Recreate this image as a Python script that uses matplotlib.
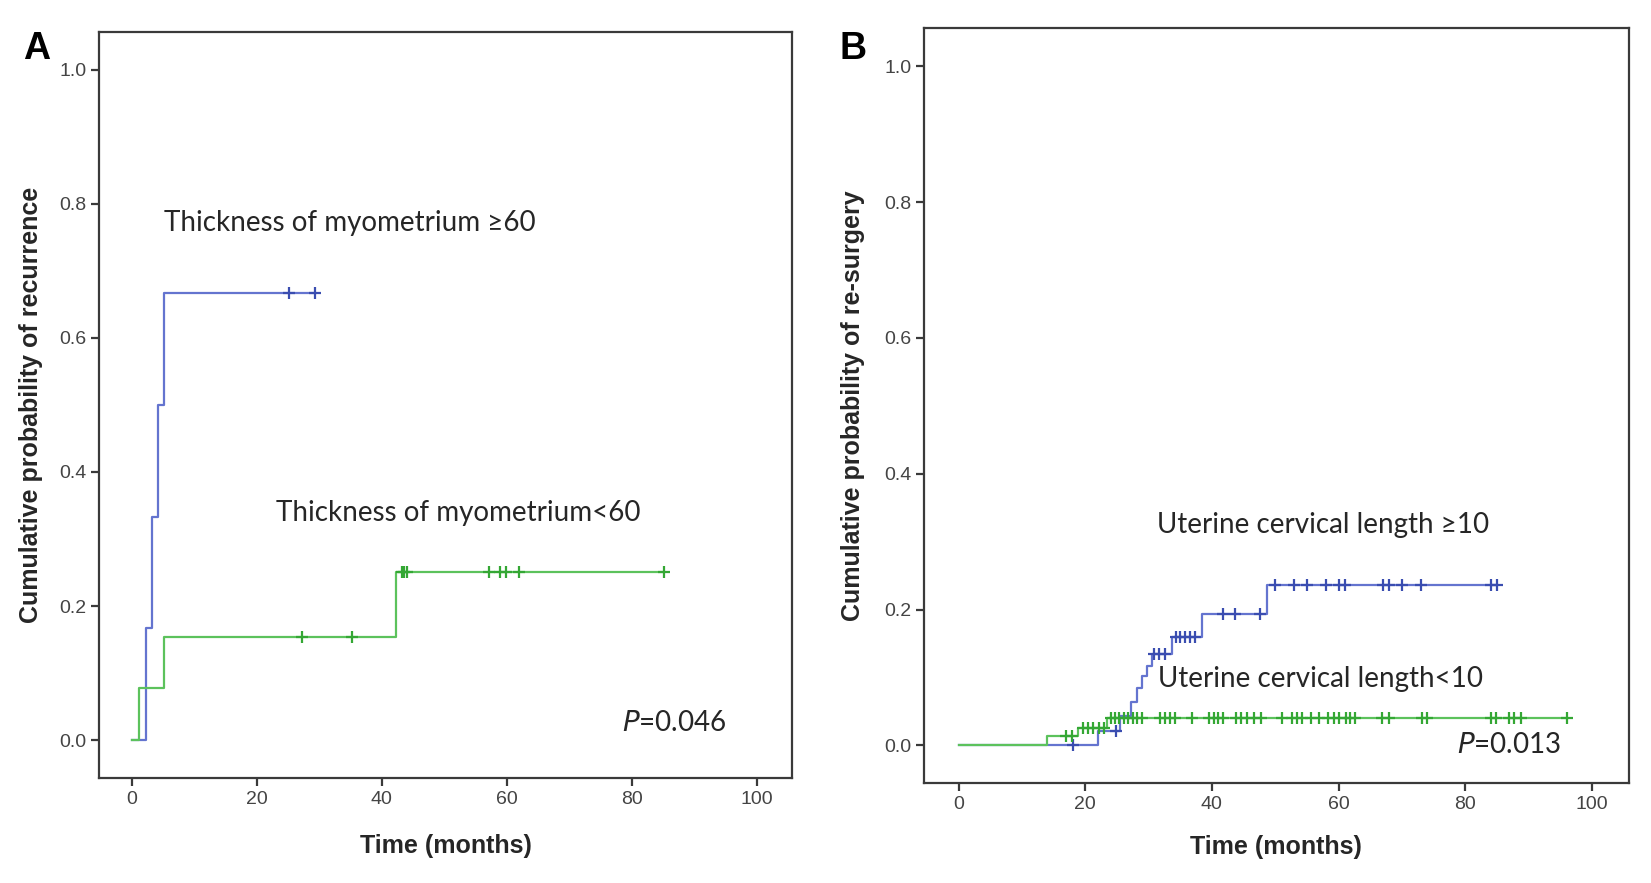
import matplotlib
matplotlib.use('Agg')
import matplotlib.pyplot as plt
import numpy as np

# ---- panel A: thickness of myometrium ----
a_hi_steps = [0, 2.3, 3.2, 4.2, 5.2]
a_hi_levels = [0, 0.167, 0.333, 0.5, 0.667]
a_hi_end = 29.3
a_hi_censor = [25.1, 29.3]

a_lo_steps = [0, 1.2, 5.2, 42.2]
a_lo_levels = [0, 0.077, 0.154, 0.25]
a_lo_end = 85.1
a_lo_censor = [27.2, 35.2, 43.2, 43.6, 44.1, 57.1, 58.9, 59.8, 62.0, 85.1]

# ---- panel B: uterine cervical length ----
b_hi_steps = [0, 22.0, 25.5, 27.3, 28.1, 28.9, 29.7, 30.5, 33.7, 38.5, 48.7]
b_hi_levels = [0, 0.021, 0.043, 0.064, 0.085, 0.102, 0.117, 0.135, 0.160, 0.194, 0.236]
b_hi_end = 85.0
b_hi_censor = [18.0, 24.8, 30.9, 31.7, 32.6, 34.3, 35.0, 35.8, 36.5, 37.3,
               41.7, 43.6, 47.6, 50.0, 53.0, 55.0, 58.0, 60.0, 61.0, 67.0,
               68.0, 70.0, 73.0, 84.0, 85.0]

b_lo_steps = [0, 14.0, 18.8, 23.4]
b_lo_levels = [0, 0.013, 0.026, 0.040]
b_lo_end = 96.0
b_lo_censor = [17.0, 17.9, 19.7, 20.5, 21.3, 22.1, 22.9,
               24.0, 24.7, 25.4, 26.1, 26.8, 27.5, 28.2, 29.0,
               31.8, 32.6, 33.4, 34.2, 36.9, 39.6, 40.3, 40.9, 41.7,
               43.8, 44.6, 45.6, 46.7, 47.7, 51.0, 52.6, 53.4, 54.2,
               55.6, 56.9, 58.4, 59.2, 60.0, 61.1, 61.8, 62.6,
               66.8, 67.9, 73.2, 73.9, 84.1, 84.9, 86.9, 87.7, 88.8, 96.0]

blue_line = '#6474cf'
blue_mark = '#3a4db0'
green_line = '#5cc25c'
green_mark = '#34a734'
text_col = '#262626'
tick_font = ['Liberation Sans Narrow', 'Liberation Sans', 'DejaVu Sans']
label_font = ['Liberation Sans', 'DejaVu Sans']
annot_font = ['Lato', 'DejaVu Sans']


def draw_curve(ax, steps, levels, end, censor, lc, mc):
    xs = list(steps) + [end]
    ys = list(levels) + [levels[-1]]
    ax.step(xs, ys, where='post', color=lc, lw=1.6, zorder=3)
    idx = np.searchsorted(steps, censor, side='right') - 1
    cy = np.array(levels)[idx]
    ax.plot(censor, cy, '+', color=mc, ms=9, mew=1.6, zorder=4)


def style_axes(ax, ylabel, xlab_y, ylab_x, xlim, ylim):
    ax.set_xlim(*xlim)
    ax.set_ylim(*ylim)
    ax.set_xticks([0, 20, 40, 60, 80, 100])
    ax.set_yticks([0.0, 0.2, 0.4, 0.6, 0.8, 1.0])
    ax.set_yticklabels(['0.0', '0.2', '0.4', '0.6', '0.8', '1.0'])
    for s in ax.spines.values():
        s.set_color('#3a3a3a')
        s.set_linewidth(1.6)
    ax.tick_params(direction='out', length=6, width=1.6, color='#3a3a3a',
                   labelsize=14, labelcolor='#444444', pad=3)
    for lab in ax.get_xticklabels() + ax.get_yticklabels():
        lab.set_family(tick_font)
    ax.set_xlabel('Time (months)', fontsize=18, fontweight='bold',
                  family=label_font, color=text_col)
    ax.set_ylabel(ylabel, fontsize=18, fontweight='bold',
                  family=label_font, color=text_col)
    ax.xaxis.set_label_coords(0.5, xlab_y)
    ax.yaxis.set_label_coords(ylab_x, 0.5)


fig = plt.figure(figsize=(16.51, 8.83), dpi=100)
ax1 = fig.add_axes([0.0601, 0.1188, 0.4194, 0.8453])
ax2 = fig.add_axes([0.5595, 0.1129, 0.4271, 0.8549])

# panel A
draw_curve(ax1, a_hi_steps, a_hi_levels, a_hi_end, a_hi_censor, blue_line, blue_mark)
draw_curve(ax1, a_lo_steps, a_lo_levels, a_lo_end, a_lo_censor, green_line, green_mark)
style_axes(ax1, 'Cumulative probability of recurrence', -0.075, -0.081,
           (-5.24, 105.6), (-0.0567, 1.0567))
ax1.text(5.1, 0.772, 'Thickness of myometrium \u226560', fontsize=20,
         family=annot_font, color=text_col, va='center')
ax1.text(23.1, 0.339, 'Thickness of myometrium<60', fontsize=20,
         family=annot_font, color=text_col, va='center')
ax1.text(78.5, 0.025, '$\\mathit{P}$=0.046', fontsize=20,
         family=annot_font, color=text_col, va='center')

# panel B
draw_curve(ax2, b_hi_steps, b_hi_levels, b_hi_end, b_hi_censor, blue_line, blue_mark)
draw_curve(ax2, b_lo_steps, b_lo_levels, b_lo_end, b_lo_censor, green_line, green_mark)
style_axes(ax2, 'Cumulative probability of re-surgery', -0.069, -0.084,
           (-5.5, 105.83), (-0.056, 1.056))
ax2.text(31.3, 0.325, 'Uterine cervical length \u226510', fontsize=20,
         family=annot_font, color=text_col, va='center')
ax2.text(31.5, 0.098, 'Uterine cervical length<10', fontsize=20,
         family=annot_font, color=text_col, va='center')
ax2.text(78.7, 0.0, '$\\mathit{P}$=0.013', fontsize=20,
         family=annot_font, color=text_col, va='center')

fig.text(37 / 1651, 1 - 49 / 883, 'A', fontsize=27, fontweight='bold',
         family=label_font, ha='center', va='center')
fig.text(853 / 1651, 1 - 49 / 883, 'B', fontsize=27, fontweight='bold',
         family=label_font, ha='center', va='center')

fig.savefig('out.png', dpi=100)
